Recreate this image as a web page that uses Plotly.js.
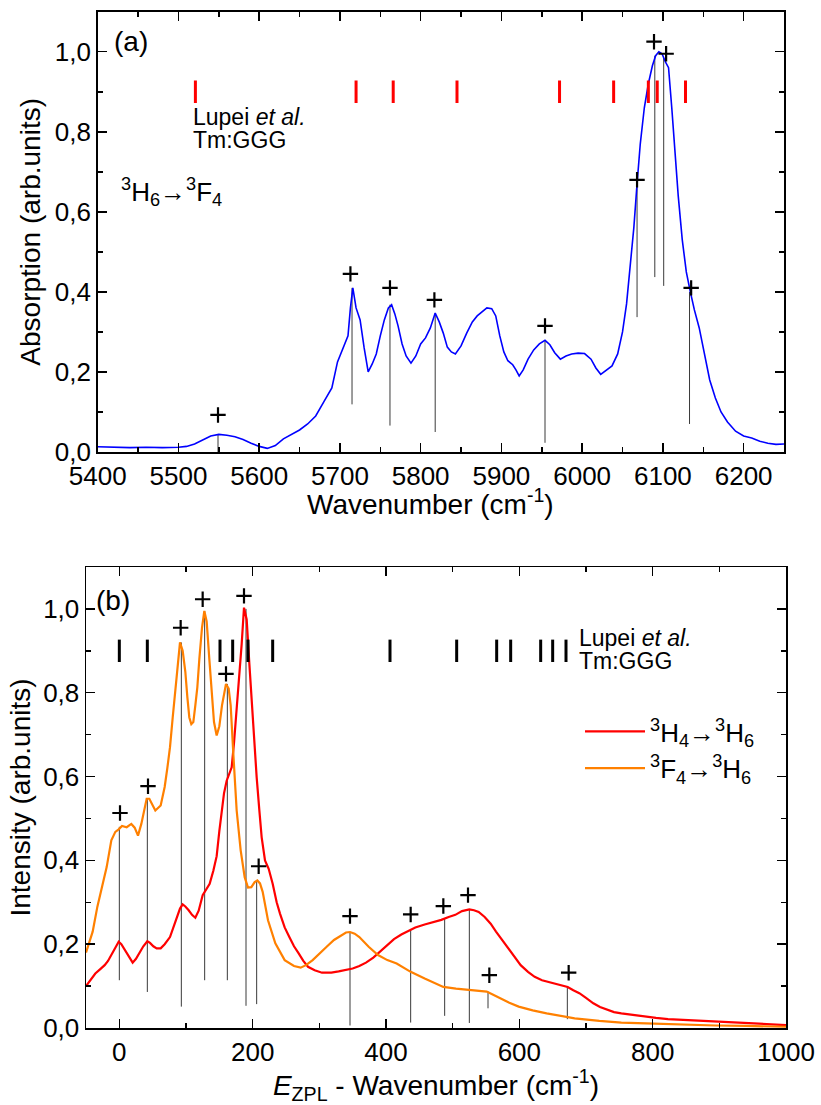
<!DOCTYPE html>
<html>
<head>
<meta charset="utf-8">
<script src="https://cdn.plot.ly/plotly-3.0.1.min.js"></script>
<style>html,body{margin:0;padding:0;background:#fff}#chart{width:821px;height:1105px}</style>
</head>
<body>
<div id="chart"></div>
<script>
// ---------- Panel (a): absorption 3H6 -> 3F4 ----------
const absWavenumber = [5400,5420,5440,5460,5480,5500,5510,5520,5530,5540,5550,5560,5570,5580,5590,5600,5610,5620,5630,5640,5650,5660,5670,5680,5690,5697,5704,5710,5713,5716,5720,5725,5730,5735,5740,5745,5750,5755,5760,5764,5768,5772,5777,5782,5788,5794,5800,5806,5812,5818,5823,5828,5833,5838,5843,5850,5857,5864,5870,5876,5882,5888,5893,5898,5903,5908,5914,5918,5922,5927,5933,5940,5947,5954,5960,5966,5973,5980,5987,5995,6003,6011,6017,6023,6030,6037,6044,6050,6055,6060,6064,6068,6072,6077,6082,6087,6091,6095,6099,6103,6107,6111,6115,6119,6124,6129,6134,6139,6145,6151,6158,6165,6172,6180,6190,6200,6210,6220,6230,6240,6250];
const absValues = [0.013,0.012,0.011,0.012,0.011,0.012,0.014,0.02,0.03,0.04,0.044,0.042,0.038,0.031,0.022,0.014,0.009,0.016,0.033,0.045,0.055,0.07,0.09,0.125,0.16,0.225,0.26,0.29,0.36,0.41,0.36,0.33,0.26,0.2,0.22,0.245,0.29,0.33,0.36,0.368,0.345,0.315,0.27,0.24,0.222,0.24,0.27,0.285,0.31,0.347,0.325,0.297,0.262,0.25,0.245,0.265,0.297,0.325,0.34,0.35,0.36,0.358,0.34,0.29,0.25,0.228,0.218,0.205,0.19,0.205,0.232,0.255,0.27,0.279,0.268,0.248,0.232,0.24,0.245,0.247,0.246,0.232,0.21,0.194,0.205,0.215,0.245,0.3,0.37,0.47,0.56,0.67,0.77,0.86,0.92,0.965,0.99,1.0,0.995,0.975,0.96,0.86,0.74,0.64,0.53,0.45,0.4,0.355,0.31,0.25,0.18,0.135,0.1,0.075,0.052,0.04,0.035,0.027,0.022,0.019,0.02];

// peak assignments (drop lines) and "+" marks
const absPeakWn     = [5549,5715,5762,5818,5954,6068,6090,6101,6133];
const absPeakTop    = [0.044,0.41,0.368,0.347,0.279,0.67,0.99,0.985,0.4];
const absPeakBottom = [0.0,0.119,0.066,0.05,0.023,0.337,0.437,0.415,0.07];
const absPlusWn     = [5549,5713,5762,5817,5954,6068,6089,6104,6135];
const absPlusY      = [0.0925,0.445,0.41,0.38,0.315,0.68,1.025,0.995,0.41];
// Lupei et al. levels (red ticks)
const lupeiAbsWn = [5521,5720,5766,5845,5972,6039,6082,6093,6128];
const lupeiAbsLevel = 0.9;

// ---------- Panel (b): emission ----------
const emRedE = [-50,-43,-36,-29,-22,-17,-12,-6,-1,3,8,14,20,25,30,36,42,46,51,56,62,68,76,82,87,91,95,99,104,109,114,119,125,130,135.5,141,146,150,153.5,157,161,165,168.5,172,176,180,183.5,187,191,195,198.5,202,206,210,213.5,218.5,224,230,236,241,248,255,262,269,276,283,293,304,318,329,339,350,360,370,381,392,402,412,423,433,444,458,472,483,494,504,514,520,525,532,539,548,557,565,574,583,592,602,613,623,634,645,655,664,672.5,681,690,700,711,721,732,742,753,770,788,805,823,860,894,930,964,1000];
const emRedI = [0.1,0.115,0.13,0.14,0.15,0.16,0.174,0.19,0.206,0.2,0.186,0.17,0.156,0.165,0.178,0.195,0.207,0.203,0.195,0.19,0.19,0.2,0.217,0.245,0.265,0.285,0.295,0.29,0.281,0.27,0.263,0.28,0.317,0.33,0.344,0.375,0.41,0.47,0.523,0.56,0.59,0.605,0.622,0.68,0.757,0.84,0.916,1.003,0.975,0.87,0.781,0.69,0.598,0.52,0.455,0.4,0.38,0.344,0.3,0.273,0.24,0.217,0.195,0.178,0.16,0.146,0.138,0.132,0.132,0.135,0.138,0.142,0.148,0.156,0.168,0.184,0.199,0.212,0.223,0.232,0.24,0.247,0.253,0.258,0.265,0.27,0.279,0.282,0.283,0.281,0.277,0.265,0.249,0.23,0.21,0.19,0.17,0.15,0.134,0.122,0.114,0.109,0.105,0.101,0.098,0.09,0.083,0.072,0.059,0.05,0.043,0.038,0.035,0.031,0.027,0.024,0.021,0.018,0.015,0.013,0.011,0.007];

const emOrangeE = [-50,-40,-33,-25,-19,-12,-6,-1,4,11,18,23,28,33,38,41,45,50,54,62,68,72,76,80,84,88,91,95,99,102,105,108,111,114,117,120,124,127.5,131,135,138.5,142,146,150,154,160,164,167,171,176,182,188,193,198,203,207,211,215,223,234,248,262,272,280,290,300,311,322,332,340,346,353,360,374,388,402,416,437,458,486,505,522,540,551,560,571,585,599,620,641,660,683,720,753,790,823,860,894,940,1000];
const emOrangeI = [0.18,0.23,0.289,0.34,0.384,0.448,0.468,0.474,0.482,0.479,0.487,0.478,0.459,0.487,0.53,0.547,0.547,0.53,0.519,0.531,0.575,0.62,0.67,0.74,0.805,0.88,0.92,0.9,0.85,0.79,0.741,0.725,0.73,0.77,0.813,0.88,0.955,0.995,0.97,0.88,0.797,0.73,0.698,0.72,0.77,0.821,0.81,0.77,0.654,0.519,0.424,0.36,0.335,0.336,0.348,0.352,0.345,0.325,0.257,0.202,0.162,0.148,0.144,0.15,0.162,0.178,0.194,0.21,0.221,0.228,0.229,0.225,0.217,0.194,0.174,0.162,0.154,0.134,0.118,0.098,0.094,0.092,0.089,0.087,0.08,0.071,0.06,0.051,0.042,0.035,0.029,0.023,0.017,0.013,0.011,0.009,0.008,0.006,0.005,0.003];

const emPeakE      = [0,42,93,128,162,190,206,346,437,488,525,553,672];
const emPeakTop    = [0.48,0.547,0.92,0.995,0.821,1.0,0.352,0.229,0.235,0.262,0.283,0.087,0.098];
const emPeakBottom = [0.114,0.086,0.051,0.114,0.114,0.053,0.057,0.006,0.013,0.029,0.012,0.047,0.021];
const emPlusE = [1,43,92,125,160,187,209,346,437,486,523,555,674];
const emPlusY = [0.513,0.577,0.955,1.023,0.845,1.031,0.386,0.267,0.271,0.291,0.317,0.126,0.132];
const lupeiEmE = [0,42,151,170,193,230,406,506,566,587,632,650,670];
const lupeiEmLevel = 0.9;

const seriesNames = ['<sup>3</sup>H<sub>4</sub>→<sup>3</sup>H<sub>6</sub>', '<sup>3</sup>F<sub>4</sub>→<sup>3</sup>H<sub>6</sub>'];

// ---------- helpers ----------
function dropLines(xs, tops, bottoms) {
  const x = [], y = [];
  xs.forEach((v, i) => { x.push(v, v, null); y.push(tops[i], bottoms[i], null); });
  return {x, y};
}
const FONT = 'Liberation Sans, Arial, sans-serif';
const W = 821, H = 1105;
const px = v => v / W, py = v => 1 - v / H;

const dA = dropLines(absPeakWn, absPeakTop, absPeakBottom);
const dB = dropLines(emPeakE, emPeakTop, emPeakBottom);
const plusMarker = {symbol: 'cross-thin', size: 11, color: '#000', line: {color: '#000', width: 2.2}};

const traces = [
  {x: dA.x, y: dA.y, xaxis: 'x', yaxis: 'y', mode: 'lines', line: {color: '#3a3a3a', width: 1}, showlegend: false, hoverinfo: 'skip'},
  {x: absWavenumber, y: absValues, xaxis: 'x', yaxis: 'y', mode: 'lines', line: {color: '#0000ff', width: 1.6}, showlegend: false, name: 'Absorption'},
  {x: absPlusWn, y: absPlusY, xaxis: 'x', yaxis: 'y', mode: 'markers', marker: plusMarker, showlegend: false},
  {x: lupeiAbsWn, y: lupeiAbsWn.map(() => lupeiAbsLevel), xaxis: 'x', yaxis: 'y', mode: 'markers', marker: {symbol: 'line-ns', size: 16, color: '#ff0000', line: {color: '#ff0000', width: 3}}, showlegend: false},

  {x: dB.x, y: dB.y, xaxis: 'x2', yaxis: 'y2', mode: 'lines', line: {color: '#3a3a3a', width: 1}, showlegend: false, hoverinfo: 'skip'},
  {x: emRedE, y: emRedI, xaxis: 'x2', yaxis: 'y2', mode: 'lines', line: {color: '#ff0000', width: 2.2}, name: seriesNames[0]},
  {x: emOrangeE, y: emOrangeI, xaxis: 'x2', yaxis: 'y2', mode: 'lines', line: {color: '#ff8000', width: 2.2}, name: seriesNames[1]},
  {x: emPlusE, y: emPlusY, xaxis: 'x2', yaxis: 'y2', mode: 'markers', marker: plusMarker, showlegend: false},
  {x: lupeiEmE, y: lupeiEmE.map(() => lupeiEmLevel), xaxis: 'x2', yaxis: 'y2', mode: 'markers', marker: {symbol: 'line-ns', size: 16, color: '#000', line: {color: '#000', width: 3}}, showlegend: false}
];

const axisCommon = {
  showline: true, linecolor: '#000', linewidth: 1.5, mirror: 'allticks',
  ticks: 'inside', ticklen: 9, tickwidth: 1.5, tickcolor: '#000',
  showgrid: false, zeroline: false, automargin: false,
  tickfont: {family: FONT, size: 26, color: '#000'}
};

function note(text, x, y, size, xanchor) {
  return {text: text, xref: 'paper', yref: 'paper', x: px(x), y: py(y), xanchor: xanchor || 'center', yanchor: 'middle',
          showarrow: false, font: {family: FONT, size: size, color: '#000'}};
}

const layout = {
  width: W, height: H,
  margin: {l: 0, r: 0, t: 0, b: 0},
  paper_bgcolor: '#fff', plot_bgcolor: '#fff',
  separators: ',.',
  font: {family: FONT, color: '#000'},
  showlegend: true,
  legend: {x: px(580), y: py(708), xanchor: 'left', yanchor: 'top', bgcolor: 'rgba(0,0,0,0)',
           font: {family: FONT, size: 26, color: '#000'}, itemwidth: 60, tracegroupgap: 0},
  xaxis: Object.assign({}, axisCommon, {
    domain: [px(97.7), px(784)], anchor: 'y', range: [5400, 6250], dtick: 100, tick0: 0,
    minor: {dtick: 50, ticks: 'inside', ticklen: 5, tickwidth: 1.5, tickcolor: '#000', showgrid: false}
  }),
  yaxis: Object.assign({}, axisCommon, {
    domain: [py(452), py(11.7)], anchor: 'x', range: [0, 1.1], dtick: 0.2, tick0: 0, tickformat: '.1f',
    minor: {dtick: 0.1, ticks: 'inside', ticklen: 5, tickwidth: 1.5, tickcolor: '#000', showgrid: false},
    title: {text: 'Absorption (arb.units)', font: {family: FONT, size: 28}, standoff: 6}
  }),
  xaxis2: Object.assign({}, axisCommon, {
    domain: [px(86), px(786)], anchor: 'y2', range: [-50, 1000], dtick: 200, tick0: 0,
    minor: {dtick: 100, ticks: 'inside', ticklen: 5, tickwidth: 1.5, tickcolor: '#000', showgrid: false},
    title: {text: '<i>E</i><sub>ZPL</sub> - Wavenumber (cm<sup>-1</sup>)', font: {family: FONT, size: 28}, standoff: 8}
  }),
  yaxis2: Object.assign({}, axisCommon, {
    domain: [py(1028), py(567)], anchor: 'x2', range: [0, 1.1], dtick: 0.2, tick0: 0, tickformat: '.1f',
    minor: {dtick: 0.1, ticks: 'inside', ticklen: 5, tickwidth: 1.5, tickcolor: '#000', showgrid: false},
    title: {text: 'Intensity (arb.units)', font: {family: FONT, size: 28}, standoff: 4}
  }),
  annotations: [
    note('Wavenumber (cm<sup>-1</sup>)', 431, 502, 28),
    note('(a)', 131, 41.5, 28),
    note('Lupei <i>et al.</i>', 191, 117, 23, 'left'),
    note('Tm:GGG', 191, 140, 23, 'left'),
    note('<sup>3</sup>H<sub>6</sub>→<sup>3</sup>F<sub>4</sub>', 119, 192, 26, 'left'),
    note('(b)', 113, 600, 28),
    note('Lupei <i>et al.</i>', 577, 638, 23, 'left'),
    note('Tm:GGG', 577, 661, 23, 'left')
  ]
};

Plotly.newPlot('chart', traces, layout, {displayModeBar: false, staticPlot: true});
</script>
</body>
</html>
